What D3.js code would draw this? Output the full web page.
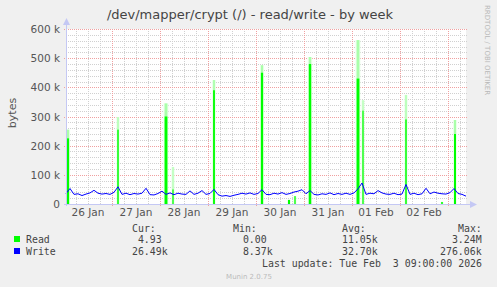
<!DOCTYPE html>
<html>
<head>
<meta charset="utf-8">
<script src="https://cdn.jsdelivr.net/npm/d3@7"></script>
<style>
  html, body { margin: 0; padding: 0; background: #f0f0f0; }
  svg { display: block; }
  text { font-family: "DejaVu Sans", sans-serif; }
  .mono { font-family: "DejaVu Sans Mono", monospace; white-space: pre; }
</style>
</head>
<body>
<div id="chart"></div>
<script>
// data -------------------------------------------------------------
var startTime = new Date(2026, 0, 26, 1, 0);
var endTime = new Date(2026, 1, 3, 9, 0);
var stepHours = 2;

// write, k bytes, one value every 2 h from startTime
var writeValues = [36, 53, 33, 35, 29, 34, 38, 47, 37, 34, 36, 33, 40, 59, 33, 37, 32, 36, 34, 37,
  54, 32, 31, 36, 44, 33, 38, 32, 37, 34, 33, 45, 33, 37, 46, 33, 36, 50, 32, 27,
  29, 26, 30, 33, 37, 34, 38, 33, 36, 49, 33, 32, 37, 34, 39, 33, 36, 41, 44, 49,
  35, 46, 33, 31, 35, 33, 38, 32, 36, 33, 37, 33, 38, 52, 72, 33, 37, 35, 46, 38,
  34, 33, 37, 32, 34, 67, 33, 37, 32, 35, 54, 35, 41, 37, 35, 34, 39, 53, 36, 33, 27];

// read spikes: hours after startTime, peak (k bytes), full-colour part (k bytes), duration (h)
var readHours = [1, 26, 50, 53.5, 74, 98, 111.5, 114.5, 122, 146, 148.5, 170, 188, 194.5];
var readPeak  = [255, 298, 345, 127, 425, 476, 14, 27, 504, 562, 356, 374, 7, 288];
var readSolid = [225, 255, 300, 50, 390, 450, 14, 27, 480, 430, 320, 290, 7, 240];
var readDur   = [1.1, 0.7, 1.4, 0.6, 0.9, 1.1, 1, 0.6, 1.2, 1.4, 0.6, 0.7, 0.75, 1];

var yTicks = [0, 100, 200, 300, 400, 500, 600];
var dayLabels = ["26 Jan", "27 Jan", "28 Jan", "29 Jan", "30 Jan", "31 Jan", "01 Feb", "02 Feb"];

var legendNames = ["Read", "Write"];
var legendColors = ["#00ff00", "#0000ff"];
var legendCur = ["  4.93 ", " 26.49k"];
var legendMin = ["  0.00 ", "  8.37k"];
var legendAvg = [" 11.05k", " 32.70k"];
var legendMax = ["  3.24M", "276.06k"];

(function() {
  var width = 497, height = 287;
  var pLeft = 66, pRight = 466, pTop = 29, pBottom = 204;

  var svg = d3.select("#chart").append("svg")
    .attr("width", width).attr("height", height);

  svg.append("rect").attr("width", width).attr("height", height).attr("fill", "#f0f0f0");

  var x = d3.scaleTime().domain([startTime, endTime]).range([pLeft, pRight]);
  var y = d3.scaleLinear().domain([0, 600]).range([pBottom, pTop]);
  var hourTime = h => new Date(startTime.getTime() + h * 3600e3);
  var px = v => Math.round(v) + 0.5;

  // plot background
  svg.append("rect").attr("x", pLeft).attr("y", pTop).attr("width", pRight - pLeft).attr("height", pBottom - pTop)
    .attr("fill", "#ffffff");

  // grid
  var grid = svg.append("g");
  var minorX = d3.timeHour.every(6).range(startTime, endTime);
  grid.selectAll(".vminor").data(minorX.filter(d => d.getHours() != 0)).enter().append("line")
    .attr("x1", d => px(x(d))).attr("x2", d => px(x(d)))
    .attr("y1", pTop).attr("y2", pBottom)
    .attr("stroke", "#d0d0d0").attr("stroke-dasharray", "1,1");
  grid.selectAll(".hminor").data(d3.range(20, 600, 20).filter(v => v % 100)).enter().append("line")
    .attr("x1", pLeft).attr("x2", pRight + 2)
    .attr("y1", d => px(y(d))).attr("y2", d => px(y(d)))
    .attr("stroke", "#d0d0d0").attr("stroke-dasharray", "1,1");
  grid.selectAll(".vmajor").data(d3.timeDay.range(startTime, endTime)).enter().append("line")
    .attr("x1", d => px(x(d))).attr("x2", d => px(x(d)))
    .attr("y1", pTop).attr("y2", pBottom + 2)
    .attr("stroke", "#f0a0a0").attr("stroke-dasharray", "1,1");
  grid.selectAll(".hmajor").data(yTicks.slice(1)).enter().append("line")
    .attr("x1", pLeft - 2).attr("x2", pRight + 2)
    .attr("y1", d => px(y(d))).attr("y2", d => px(y(d)))
    .attr("stroke", "#f0a0a0").attr("stroke-dasharray", "1,1");

  // read spikes (faded top = partly covered pixels in the original)
  var spikes = readHours.map((h, i) => ({h: h, peak: readPeak[i], solid: readSolid[i], dur: readDur[i]}));
  var sx = d => x(hourTime(d.h - d.dur / 2));
  var sw = d => Math.max(1, x(hourTime(d.h + d.dur / 2)) - sx(d));
  var plot = svg.append("g");
  plot.selectAll(".halo").data(spikes).enter().append("rect")
    .attr("x", d => sx(d) - 1).attr("width", d => sw(d) + 2)
    .attr("y", d => y(d.peak)).attr("height", d => y(0) - y(d.peak))
    .attr("fill", "#ecffec");
  plot.selectAll(".peak").data(spikes).enter().append("rect")
    .attr("x", sx).attr("width", sw)
    .attr("y", d => y(d.peak)).attr("height", d => y(0) - y(d.peak))
    .attr("fill", "#aaffaa");
  plot.selectAll(".solid").data(spikes).enter().append("rect")
    .attr("x", sx).attr("width", sw)
    .attr("y", d => y(d.solid)).attr("height", d => y(0) - y(d.solid))
    .attr("fill", "#00ff00");

  // write line
  var line = d3.line()
    .x((d, i) => x(hourTime(i * stepHours)))
    .y(d => y(d));
  plot.append("path").datum(writeValues)
    .attr("d", line).attr("fill", "none")
    .attr("stroke", "#0000ff").attr("stroke-width", 1);

  // axes
  var axisColor = "#c4c8f4";
  svg.append("line").attr("x1", pLeft + 0.5).attr("x2", pLeft + 0.5).attr("y1", pBottom + 2).attr("y2", pTop - 6)
    .attr("stroke", axisColor);
  svg.append("path").attr("d", `M${pLeft - 3},${pTop - 4} L${pLeft + 4},${pTop - 4} L${pLeft + 0.5},${pTop - 11} Z`)
    .attr("fill", axisColor);
  svg.append("line").attr("x1", pLeft - 2).attr("x2", pRight + 6).attr("y1", pBottom + 0.5).attr("y2", pBottom + 0.5)
    .attr("stroke", axisColor);
  svg.append("path").attr("d", `M${pRight + 4},${pBottom - 3} L${pRight + 4},${pBottom + 4} L${pRight + 11},${pBottom + 0.5} Z`)
    .attr("fill", axisColor);

  // tick labels
  svg.selectAll(".ylab").data(yTicks).enter().append("text")
    .attr("x", 60).attr("y", d => y(d) + 4)
    .attr("text-anchor", "end").attr("font-size", 10.5).attr("fill", "#555")
    .text(d => d ? d + " k" : "0");
  var noons = d3.timeDay.range(d3.timeDay.floor(startTime), endTime).map(d => d3.timeHour.offset(d, 12));
  svg.selectAll(".xlab").data(dayLabels).enter().append("text")
    .attr("x", (d, i) => x(noons[i])).attr("y", 216)
    .attr("text-anchor", "middle").attr("font-size", 10.5).attr("fill", "#555")
    .text(d => d);

  // title + labels
  svg.append("text").attr("x", 250).attr("y", 19).attr("text-anchor", "middle")
    .attr("font-size", 13).attr("fill", "#444")
    .text("/dev/mapper/crypt (/) - read/write - by week");
  svg.append("text").attr("transform", "translate(16,113) rotate(-90)").attr("text-anchor", "middle")
    .attr("font-size", 11).attr("fill", "#555").text("bytes");
  svg.append("text").attr("transform", "translate(485,5) rotate(90)").attr("text-anchor", "start")
    .attr("font-size", 7).attr("fill", "#b8b8b8").text("RRDTOOL / TOBI OETIKER");

  // legend
  var legend = svg.append("g").attr("font-size", 9.9).attr("fill", "#444");
  [["Cur:", 132], ["Min:", 233], ["Avg:", 342], ["Max:", 458]].forEach(h => {
    legend.append("text").attr("class", "mono").attr("x", h[1]).attr("y", 232).text(h[0]);
  });
  legendNames.forEach((name, i) => {
    var yy = 243 + i * 12;
    legend.append("rect").attr("x", 14).attr("y", yy - 7).attr("width", 6).attr("height", 6)
      .attr("fill", legendColors[i]);
    legend.append("text").attr("class", "mono").attr("x", 26).attr("y", yy).text(name);
    legend.append("text").attr("class", "mono").attr("x", 126).attr("y", yy).text(legendCur[i]);
    legend.append("text").attr("class", "mono").attr("x", 231).attr("y", yy).text(legendMin[i]);
    legend.append("text").attr("class", "mono").attr("x", 336).attr("y", yy).text(legendAvg[i]);
    legend.append("text").attr("class", "mono").attr("x", 440).attr("y", yy).text(legendMax[i]);
  });
  legend.append("text").attr("class", "mono").attr("x", 262).attr("y", 267)
    .text("Last update: Tue Feb  3 09:00:00 2026");
  svg.append("text").attr("x", 249).attr("y", 279).attr("text-anchor", "middle")
    .attr("font-size", 7).attr("fill", "#bbb").text("Munin 2.0.75");
})();
</script>
</body>
</html>
